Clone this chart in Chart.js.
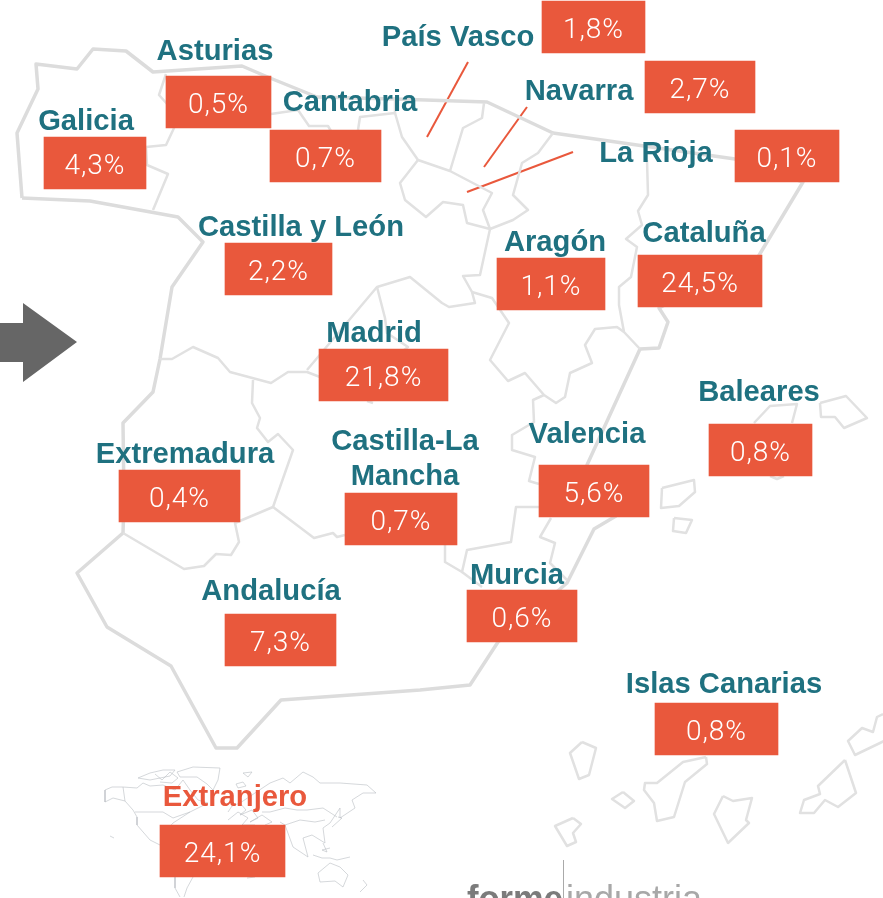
<!DOCTYPE html>
<html lang="es">
<head>
<meta charset="utf-8">
<title>Exportaciones por región</title>
<style>
  html, body { margin: 0; padding: 0; background: #fff; }
  canvas { display: block; }
</style>
<script src="https://cdn.jsdelivr.net/npm/chart.js@4/dist/chart.umd.min.js"></script>
</head>
<body>
<canvas id="chart" width="883" height="898"></canvas>
<script>
// chart values
const regions = ['Galicia', 'Asturias', 'Cantabria', 'Castilla y León', 'País Vasco', 'Navarra', 'La Rioja', 'Aragón', 'Cataluña', 'Madrid', 'Baleares', 'Valencia', 'Extremadura', 'Castilla-La Mancha', 'Murcia', 'Andalucía', 'Islas Canarias', 'Extranjero'];
const shares = [4.3, 0.5, 0.7, 2.2, 1.8, 2.7, 0.1, 1.1, 24.5, 21.8, 0.8, 5.6, 0.4, 0.7, 0.6, 7.3, 0.8, 24.1];

// layout, same order as regions: box left/right/top, name centre and baseline(s)
const boxLeft = [44, 166, 270, 225, 542, 645, 735, 497, 638, 319, 709, 539, 119, 345, 467, 225, 655, 160];
const boxRight = [146, 271, 381, 332, 645, 755, 839, 605, 762, 448, 812, 649, 240, 457, 577, 336, 778, 285];
const boxTop = [137, 76, 130, 243, 1, 61, 130, 258, 255, 349, 424, 465, 470, 493, 590, 614, 703, 825];
const nameX = [86, 215, 350, 301, 458, 579, 656, 555, 704, 374, 759, 587, 185, 405, 517, 271, 724, 235];
const nameY = [130, 60, 111, 236, 46, 100, 162, 251, 242, 342, 401, 443, 463, 450, 584, 600, 693, 806];

// map outlines
const coast = [[22,198],[17,133],[38,89],[36,64],[77,69],[93,49],[126,51],[153,72],[242,66],[270,78],[317,97],[395,99],[487,102],[553,133],[735,159],[803,182],[758,257],[659,308],[668,322],[659,348],[640,349]];
const coastSouth = [[640,349],[587,465],[600,490],[616,516],[594,529],[567,583],[498,642],[470,685],[420,690],[281,700],[237,748],[216,748],[171,666],[107,627],[77,573],[123,533],[124,500],[123,423],[153,392],[160,359],[172,287],[203,242],[178,217],[90,201],[22,198]];
const borderGalicia = [[166,74],[159,95],[168,105],[174,128],[166,145],[146,147],[147,165],[168,174],[153,210]];
const borderCantabria = [[271,114],[298,110],[309,126],[328,126],[331,131]];
const borderBasqueWest = [[358,130],[360,117],[395,113],[402,137],[418,160],[450,171],[492,193],[483,210],[490,229]];
const borderCantabriaNorth = [[395,99],[395,113]];
const borderRioja = [[418,160],[400,183],[405,200],[426,217],[443,202],[463,205],[467,223],[490,229]];
const borderBasqueEast = [[450,171],[463,128],[482,118],[484,103]];
const borderNavarra = [[553,133],[538,153],[522,163],[513,195],[528,210],[513,220],[490,229]];
const borderCataluna = [[647,160],[648,195],[638,211],[642,225],[626,239],[637,247],[631,277],[619,287],[619,305],[624,332],[640,349]];
const borderAragonWest = [[490,229],[480,275],[463,276],[472,292],[475,303],[449,307],[442,303],[410,277],[377,287],[307,370]];
const borderAragonSouth = [[472,292],[492,298],[509,323],[490,360],[508,381],[525,373],[544,395],[556,403],[565,397],[570,373],[592,363],[585,345],[595,329],[617,327],[624,332]];
const borderValencia = [[544,395],[533,400],[534,422],[512,435],[512,450],[535,457],[529,481],[539,484]];
const borderMurciaNorth = [[539,507],[516,507],[511,542],[467,550],[462,572],[445,562],[445,545]];
const borderMurciaSouth = [[462,572],[482,587]];
const borderMurciaEast = [[551,518],[540,537],[555,543],[550,563],[567,580]];
const borderAndalucia = [[273,507],[314,538],[333,533],[337,537],[345,535]];
const borderExtremadura = [[123,533],[184,569],[204,566],[216,554],[231,555],[239,542],[235,523],[273,507],[293,450],[278,434],[268,442],[257,428],[260,418],[252,403],[253,380]];
const borderCastilla = [[160,359],[172,359],[193,347],[218,358],[230,372],[271,383],[288,372],[307,372],[320,377]];
const borderMadrid = [[377,287],[385,318],[387,333],[408,347],[404,350]];
const borderExtra = [[367,401],[373,403]];

const mallorca = [[754,423],[770,406],[797,404],[792,423]];
const mallorcaSouth = [[770,476],[777,479],[784,476]];
const menorca = [[820,403],[846,396],[867,418],[844,428],[835,417],[821,417],[820,403]];
const ibiza = [[662,488],[694,480],[695,492],[679,506],[661,508],[662,488]];
const formentera = [[674,518],[692,520],[686,533],[673,531],[674,518]];
const laPalma = [[582,742],[596,748],[589,775],[579,779],[570,753],[582,742]];
const gomera = [[623,792],[634,801],[625,808],[612,799],[623,792]];
const hierro = [[573,818],[581,824],[573,833],[576,842],[567,846],[555,826],[573,818]];
const tenerife = [[706,757],[707,764],[685,782],[674,817],[657,821],[654,803],[644,790],[645,783],[657,783],[683,762],[706,757]];
const granCanaria = [[723,796],[733,801],[752,798],[746,820],[749,823],[728,843],[714,814],[723,796]];
const fuerteventura = [[845,760],[856,793],[838,807],[825,800],[814,813],[800,813],[804,800],[820,794],[818,786],[845,760]];
const lanzarote = [[883,714],[877,717],[873,732],[862,728],[848,741],[855,755],[880,743],[884,741]];

const arrow = [[0,323],[23,323],[23,303],[77,342],[23,382],[23,362],[0,362]];

const leaderVasco = [[468,62],[427,137]];
const leaderNavarra = [[527,107],[484,167]];
const leaderRioja = [[573,152],[467,192]];

// small world map
const worldAmericaNorth = [[105,790],[112,787],[123,787],[137,788],[143,783],[150,786],[163,785],[175,790],[183,780],[190,790],[198,800],[208,803],[190,812],[173,823],[165,832],[160,835]];
const worldAmericaWest = [[105,790],[105,802],[113,798],[125,801],[133,810],[137,817],[137,825],[150,840],[160,845]];
const worldBorderCanada = [[135,812],[163,812],[173,818],[190,812]];
const worldBorderAlaska = [[123,787],[125,801]];
const worldArctic = [[138,778],[150,773],[163,770],[175,770],[170,776],[160,778],[150,780],[138,778]];
const worldArctic2 = [[155,774],[162,780],[170,772],[178,778],[172,783],[160,782]];
const worldGreenland = [[177,772],[193,767],[220,768],[218,780],[213,790],[207,784],[197,777],[180,777],[177,772]];
const worldHawaii = [[110,836],[114,838]];
const worldIceland = [[236,784],[243,782],[246,786],[238,788],[236,784]];
const worldAmericaSouth = [[175,877],[175,888],[180,897]];
const worldAmericaSouth2 = [[193,877],[187,888],[184,897]];
const worldRussia = [[240,803],[252,795],[270,783],[283,778],[290,783],[303,772],[313,777],[320,783],[340,783],[367,785],[376,793],[363,793],[352,800],[355,808],[340,818],[340,808],[330,823],[323,828],[325,843],[312,835],[303,838],[308,857],[293,847],[285,825],[280,822]];
const worldAsiaBorder = [[262,812],[270,812],[285,808],[297,810],[307,810],[323,808],[337,817]];
const worldAsiaBorder2 = [[285,825],[300,820],[315,822],[325,820]];
const worldJapan = [[338,817],[342,818],[332,827]];
const worldIslands = [[313,855],[322,858],[330,858],[337,860],[350,857]];
const worldIslands2 = [[323,843],[327,852],[322,850],[330,848]];
const worldAustralia = [[318,873],[330,863],[340,867],[348,875],[343,887],[335,881],[320,882],[318,873]];
const worldZealand = [[363,880],[367,885],[360,892]];
const worldSvalbard = [[243,773],[252,772],[248,777],[243,773]];
const worldEurope = [[228,812],[232,806],[240,803],[246,810],[240,815],[252,810],[258,818],[250,822],[262,815],[272,822],[265,825]];
const worldEurope2 = [[228,820],[238,812],[248,818],[242,825],[255,825]];
const worldAfrica = [[247,878],[255,877]];

const coastLines = [coast, coastSouth];
const borderLines = [borderGalicia, borderCantabria, borderBasqueWest, borderCantabriaNorth, borderRioja, borderBasqueEast, borderNavarra, borderCataluna, borderAragonWest, borderAragonSouth, borderValencia, borderMurciaNorth, borderMurciaSouth, borderMurciaEast, borderAndalucia, borderExtremadura, borderCastilla, borderMadrid, borderExtra, mallorca, mallorcaSouth, menorca, ibiza, formentera, laPalma, gomera, hierro, tenerife, granCanaria, fuerteventura, lanzarote];
const leaderLines = [leaderVasco, leaderNavarra, leaderRioja];
const worldLines = [worldAmericaNorth, worldAmericaWest, worldBorderCanada, worldBorderAlaska, worldArctic, worldArctic2, worldGreenland, worldHawaii, worldIceland, worldAmericaSouth, worldAmericaSouth2, worldRussia, worldAsiaBorder, worldAsiaBorder2, worldJapan, worldIslands, worldIslands2, worldAustralia, worldZealand, worldSvalbard, worldEurope, worldEurope2, worldAfrica];

const BOX_HEIGHT = 52;
const ORANGE = '#e9583c';
const TEAL = '#1f7180';

const toPoints = (line) => line.map(([x, y]) => ({ x, y }));

const outline = (line, color, width) => ({
  type: 'scatter',
  data: toPoints(line),
  showLine: true,
  pointRadius: 0,
  borderColor: color,
  borderWidth: width,
  borderJoinStyle: 'round',
  fill: false,
  order: 5
});

const shareBoxes = regions.map((region, index) => ({
  type: 'bar',
  label: region,
  data: [{
    x: (boxLeft[index] + boxRight[index]) / 2,
    y: [boxTop[index], boxTop[index] + BOX_HEIGHT]
  }],
  barThickness: boxRight[index] - boxLeft[index],
  backgroundColor: ORANGE,
  borderWidth: 0,
  grouped: false,
  order: 1
}));

const datasets = [
  ...worldLines.map((line) => outline(line, '#b9bec3', 0.6)),
  ...borderLines.map((line) => outline(line, '#e1e1e1', 2.5)),
  ...coastLines.map((line) => outline(line, '#dcdcdc', 3.5)),
  ...leaderLines.map((line) => outline(line, ORANGE, 2)),
  {
    type: 'scatter',
    data: toPoints(arrow),
    showLine: true,
    pointRadius: 0,
    borderWidth: 0,
    backgroundColor: '#666666',
    fill: 'shape',
    order: 4
  },
  ...shareBoxes
];

const formatShare = (value) => `${value.toFixed(1).replace('.', ',')}%`;

const textPlugin = {
  id: 'regionText',
  afterDatasetsDraw(chart) {
    const { ctx, scales } = chart;
    const { x, y } = scales;
    ctx.save();
    ctx.textAlign = 'center';
    ctx.textBaseline = 'alphabetic';

    // region names
    ctx.font = 'bold 29.2px "Liberation Sans", Arial, sans-serif';
    regions.forEach((region, index) => {
      ctx.fillStyle = region === 'Extranjero' ? ORANGE : TEAL;
      if (region === 'Castilla-La Mancha') {
        ctx.fillText('Castilla-La', x.getPixelForValue(nameX[index]), y.getPixelForValue(nameY[index]));
        ctx.fillText('Mancha', x.getPixelForValue(nameX[index]), y.getPixelForValue(nameY[index] + 35));
        return;
      }
      ctx.fillText(region, x.getPixelForValue(nameX[index]), y.getPixelForValue(nameY[index]));
    });

    // percentages
    ctx.font = '300 28px Roboto, "Liberation Sans", sans-serif';
    ctx.letterSpacing = '1px';
    ctx.fillStyle = '#ffffff';
    shares.forEach((share, index) => {
      const centre = (boxLeft[index] + boxRight[index]) / 2;
      ctx.fillText(formatShare(share), x.getPixelForValue(centre), y.getPixelForValue(boxTop[index] + 37));
    });
    ctx.letterSpacing = '0px';

    // logo, cut off by the bottom edge like in the source
    ctx.textAlign = 'left';
    ctx.fillStyle = '#7b7b7b';
    ctx.font = 'bold 36px "Liberation Sans", Arial, sans-serif';
    ctx.fillText('forme', x.getPixelForValue(467), y.getPixelForValue(911), 96);
    ctx.fillStyle = '#a8a8a8';
    ctx.font = '36px "Liberation Sans", Arial, sans-serif';
    ctx.fillText('industria', x.getPixelForValue(566), y.getPixelForValue(911), 137);
    ctx.strokeStyle = '#aaaaaa';
    ctx.lineWidth = 1;
    ctx.beginPath();
    ctx.moveTo(x.getPixelForValue(563.5), y.getPixelForValue(860));
    ctx.lineTo(x.getPixelForValue(563.5), y.getPixelForValue(898));
    ctx.stroke();
    ctx.restore();
  }
};

new Chart(document.getElementById('chart'), {
  type: 'bar',
  data: { datasets },
  options: {
    responsive: false,
    animation: false,
    layout: { padding: 0 },
    plugins: {
      legend: { display: false },
      tooltip: { enabled: false }
    },
    scales: {
      x: { type: 'linear', min: 0, max: 883, offset: false, display: false },
      y: { type: 'linear', min: 0, max: 898, reverse: true, display: false }
    }
  },
  plugins: [textPlugin]
});
</script>
</body>
</html>
